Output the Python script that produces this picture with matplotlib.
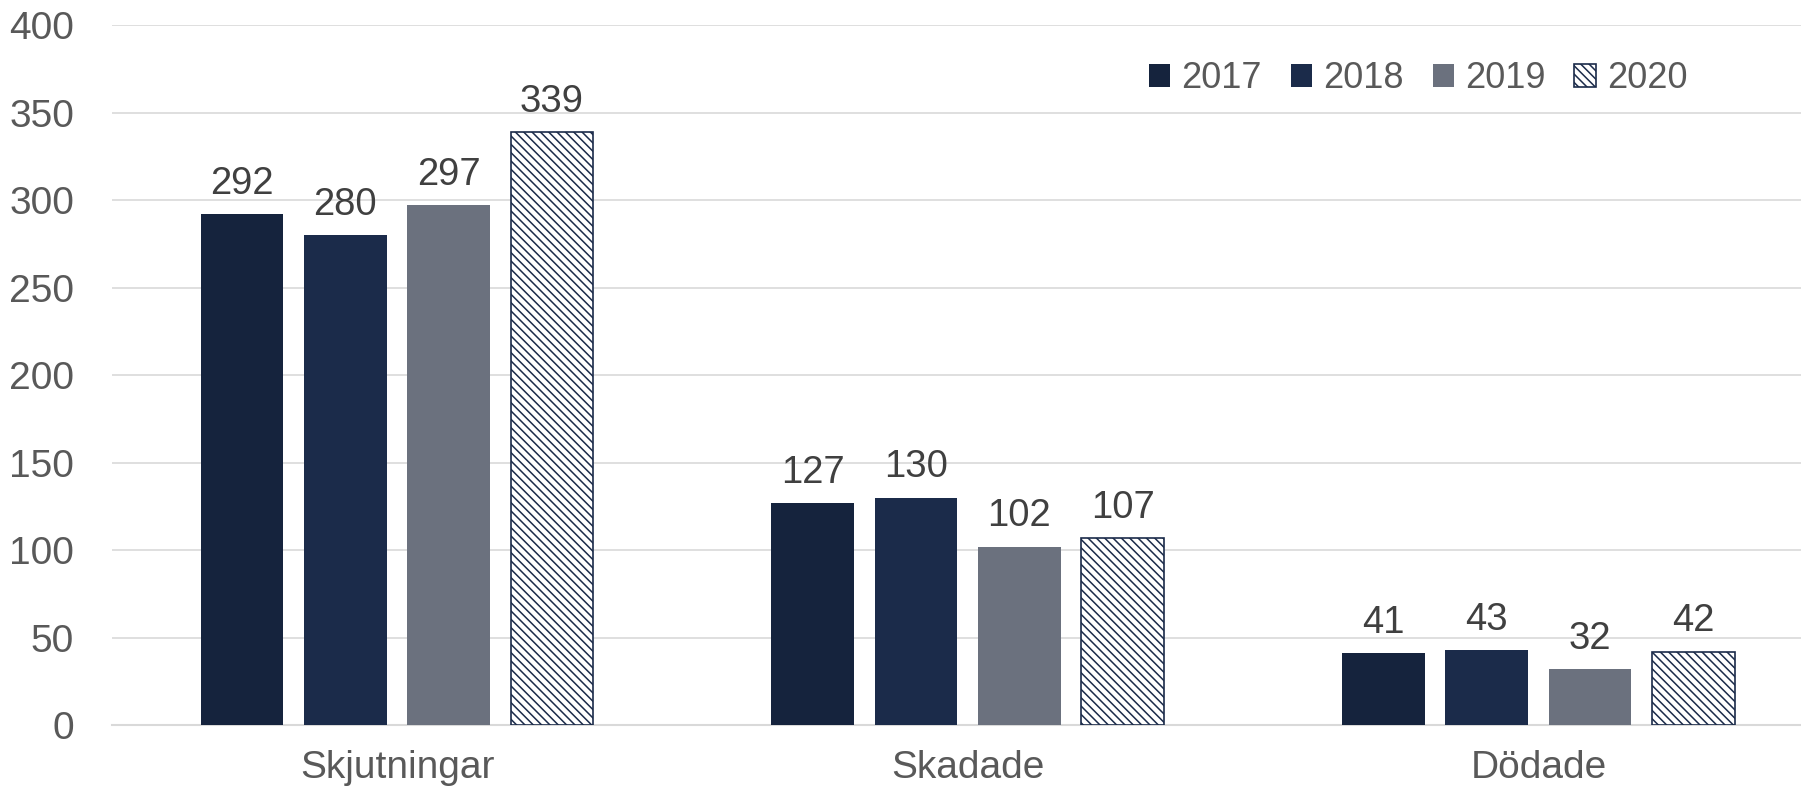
import numpy as np
import matplotlib.pyplot as plt

plt.rcParams['font.family'] = ['Liberation Sans', 'DejaVu Sans']
plt.rcParams['hatch.linewidth'] = 1.1

kategorier = ['Skjutningar', 'Skadade', 'Dödade']
ar = ['2017', '2018', '2019', '2020']
v2017 = [292, 127, 41]
v2018 = [280, 130, 43]
v2019 = [297, 102, 32]
v2020 = [339, 107, 42]
serier = [v2017, v2018, v2019, v2020]

farger = ['#15233d', '#1b2b4a', '#6b717e', 'white']

fig = plt.figure(figsize=(18.01, 7.89), dpi=100)
ax = fig.add_axes([0.062, 0.081, 0.938, 0.887])

x = np.arange(len(kategorier))
bredd = 0.145
steg = 0.181
for i, (namn, vals) in enumerate(zip(ar, serier)):
    pos = x + (i - 1.5) * steg
    if namn == '2020':
        ax.bar(pos, vals, bredd, color='white', edgecolor='#1b2b4a',
               hatch='\\\\\\\\', linewidth=1.2, label=namn, zorder=3)
    else:
        ax.bar(pos, vals, bredd, color=farger[i], label=namn, zorder=3)
    for p, v in zip(pos, vals):
        ax.text(p, v + 7, str(v), ha='center', va='bottom', fontsize=27.5, color='#404040')

ax.set_ylim(0, 400)
ax.set_yticks(range(0, 401, 50))
ax.set_xlim(-0.5, 2.46)
ax.set_xticks(x)
ax.set_xticklabels(kategorier)
ax.tick_params(axis='both', length=0, labelsize=28, labelcolor='#595959')
ax.tick_params(axis='y', pad=27)
ax.tick_params(axis='x', pad=18)
ax.grid(axis='y', color='#d9d9d9', linewidth=1.2, zorder=0)
for s in ['top', 'right', 'left']:
    ax.spines[s].set_visible(False)
ax.spines['bottom'].set_color('#d9d9d9')
ax.spines['bottom'].set_linewidth(1.5)

ax.legend(loc='upper right', bbox_to_anchor=(0.952, 0.995), ncol=4, frameon=False,
          fontsize=26, labelcolor='#595959', handlelength=0.6, handleheight=0.6,
          handletextpad=0.3, columnspacing=0.8)

fig.savefig('out.png', dpi=100)
